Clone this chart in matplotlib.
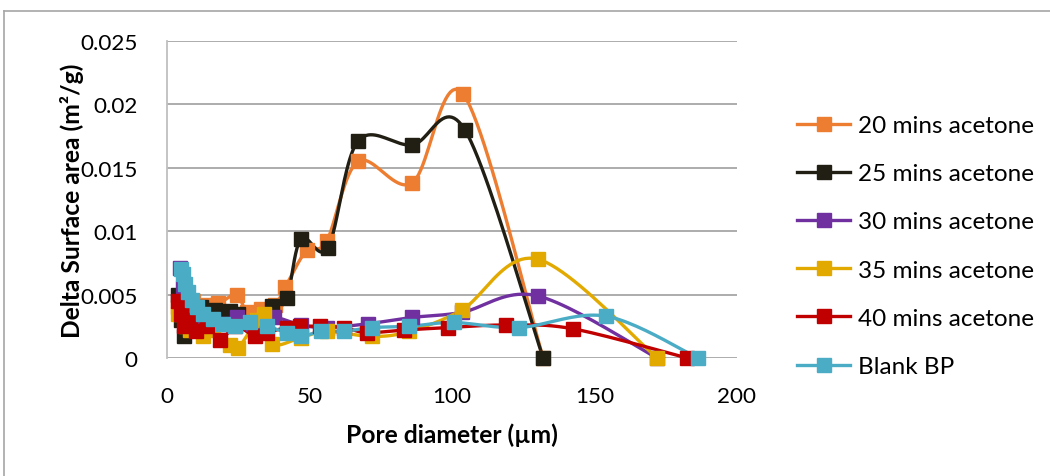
import numpy as np
import matplotlib
matplotlib.use("Agg")
import matplotlib.pyplot as plt
from matplotlib.lines import Line2D

plt.rcParams['font.family'] = ['Lato', 'DejaVu Sans']

labels = ["20 mins acetone", "25 mins acetone", "30 mins acetone",
          "35 mins acetone", "40 mins acetone", "Blank BP"]
colors = ["#ED7D31", "#211E14", "#7030A0", "#E2AA00", "#C00000", "#4BACC6"]

s20_x = [4, 6, 9, 13, 18, 24.5, 28, 33, 38, 41.5, 49, 56, 67, 86, 104, 132]
s20_y = [0.0040, 0.0042, 0.0045, 0.0042, 0.0043, 0.0050, 0.0036, 0.0039, 0.0042,
         0.0056, 0.0085, 0.0092, 0.0155, 0.0138, 0.0208, 0.0]

s25_x = [4, 5, 6, 8, 12, 17, 22, 25, 37, 42, 47, 56.5, 67, 86, 104.5, 132]
s25_y = [0.0050, 0.0030, 0.0017, 0.0025, 0.0040, 0.0038, 0.0037, 0.0035, 0.0041,
         0.0047, 0.0094, 0.0087, 0.0171, 0.0168, 0.0180, 0.0]

s30_x = [4.5, 5.5, 7, 9, 12, 16, 20, 24.5, 30, 37.5, 47, 56, 70.5, 86, 103.5, 130, 172]
s30_y = [0.0071, 0.0055, 0.0040, 0.0033, 0.0030, 0.0028, 0.0027, 0.0032, 0.0027,
         0.0032, 0.0026, 0.0024, 0.0027, 0.0032, 0.0036, 0.0049, 0.0]

s35_x = [4, 5, 6.5, 8, 12.5, 16, 22, 25, 31.5, 34, 37, 47, 56, 72, 85, 103.5, 130, 172]
s35_y = [0.0035, 0.0040, 0.0025, 0.0022, 0.0017, 0.0022, 0.0010, 0.0008, 0.0030,
         0.0035, 0.0011, 0.0016, 0.0021, 0.0017, 0.0021, 0.0038, 0.0078, 0.0]

s40_x = [4, 5, 6, 8, 10, 14, 18.6, 24, 31, 35, 42, 46.7, 53.7, 62, 70, 83, 98.6,
         119, 142.5, 182.5]
s40_y = [0.0045, 0.0035, 0.0025, 0.0030, 0.0021, 0.0025, 0.0014, 0.0025, 0.0017,
         0.0020, 0.0024, 0.0025, 0.0025, 0.0024, 0.0020, 0.0022, 0.0024, 0.0026,
         0.0023, 0.0]

sb_x = [5, 5.6, 6.3, 7.4, 8.8, 10.5, 12.6, 16, 19.6, 24, 29, 35, 42, 47, 54, 62,
        72, 85, 100.7, 123.5, 154, 186.3]
sb_y = [0.0070, 0.0066, 0.0058, 0.0052, 0.0046, 0.0040, 0.0035, 0.0031, 0.0027,
        0.0025, 0.0028, 0.0025, 0.0020, 0.0017, 0.0021, 0.0021, 0.0024, 0.0025,
        0.0028, 0.0024, 0.0033, 0.0]

series = [(s20_x, s20_y), (s25_x, s25_y), (s30_x, s30_y),
          (s35_x, s35_y), (s40_x, s40_y), (sb_x, sb_y)]

xticks = [0, 50, 100, 150, 200]
yticks = [0, 0.005, 0.01, 0.015, 0.02, 0.025]
ytick_labels = ["0", "0.005", "0.01", "0.015", "0.02", "0.025"]

fig = plt.figure(figsize=(10.5, 4.77), dpi=100)
ax = fig.add_axes([167/1050, 1-359/477, 570/1050, 317/477])
ax.set_xlim(0, 200)
ax.set_ylim(0, 0.025)

# scale factors to approximate screen space for Excel-like smoothing
SX = 570/200.0
SY = 317/0.025


def smooth(xs, ys, n=24):
    P = np.column_stack([np.asarray(xs, float) * SX, np.asarray(ys, float) * SY])
    out = [P[0]]
    t = np.linspace(0, 1, n)[1:]
    for i in range(len(P) - 1):
        p0 = P[i - 1] if i > 0 else P[i]
        p1 = P[i]
        p2 = P[i + 1]
        p3 = P[i + 2] if i + 2 < len(P) else P[i + 1]
        c1 = p1 + (p2 - p0) / 6.0
        c2 = p2 - (p3 - p1) / 6.0
        for tt in t:
            b = ((1 - tt) ** 3) * p1 + 3 * ((1 - tt) ** 2) * tt * c1 + \
                3 * (1 - tt) * tt ** 2 * c2 + tt ** 3 * p2
            out.append(b)
    out = np.array(out)
    return out[:, 0] / SX, out[:, 1] / SY


for (xs, ys), c, lab in zip(series, colors, labels):
    cx, cy = smooth(xs, ys)
    ax.plot(cx, cy, color=c, lw=2.4, solid_capstyle='round', zorder=3, clip_on=False)
    ax.plot(xs, ys, ls='none', marker='s', ms=10, color=c, zorder=4, clip_on=False)

ax.set_yticks(yticks)
ax.set_yticklabels(ytick_labels)
ax.set_xticks(xticks)
ax.tick_params(axis='both', length=0, labelsize=16.2, colors='black')
ax.tick_params(axis='y', pad=21)
ax.tick_params(axis='x', pad=20)
ax.grid(axis='y', color='#A6A6A6', lw=1.3)
ax.set_axisbelow(True)
for s in ['top', 'right', 'bottom']:
    ax.spines[s].set_visible(False)
ax.spines['left'].set_color('#BFBFBF')
ax.spines['left'].set_linewidth(1.3)

ax.set_xlabel("Pore diameter (µm)", fontsize=17.7, fontweight='bold', labelpad=12)
ax.set_ylabel("Delta Surface area (m²/g)", fontsize=17.7, fontweight='bold', labelpad=-3)

handles = [Line2D([0], [0], color=c, lw=2.4, marker='s', ms=10) for c in colors]
leg = fig.legend(handles, labels, loc='upper left', bbox_to_anchor=(797/1050, 1-116/477),
                 frameon=False, fontsize=17.5, handlelength=2.2, handletextpad=0.3,
                 labelspacing=1.12, borderpad=0, borderaxespad=0)

# chart border
fig.add_artist(Line2D([4/1050, 1], [1-12/477, 1-12/477], color='#A6A6A6', lw=1.2,
                      transform=fig.transFigure))
fig.add_artist(Line2D([4/1050, 4/1050], [0, 1-12/477], color='#A6A6A6', lw=1.2,
                      transform=fig.transFigure))

fig.savefig("out.png", dpi=100)
